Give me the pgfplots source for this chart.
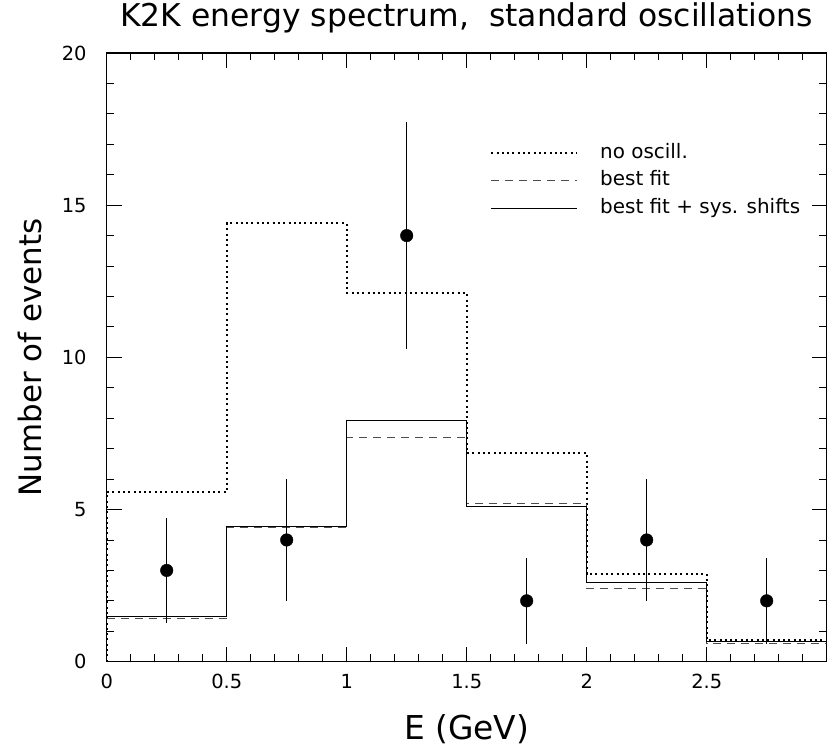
\documentclass[border=0pt]{standalone}
\usepackage{fontspec}
\setmainfont{DejaVu Sans}
\usepackage{pgfplots}
\pgfplotsset{compat=1.18}

\begin{document}
\begin{tikzpicture}
\useasboundingbox (0bp,0bp) rectangle (839bp,748bp);
\begin{axis}[at={(106.7bp,86.3bp)}, anchor=south west,
    scale only axis, width=720bp, height=608.7bp,
    xmin=0, xmax=3, ymin=0, ymax=20,
    xtick={0,0.5,1,1.5,2,2.5}, xticklabels={0,0.5,1,1.5,2,2.5},
    ytick={0,5,10,15,20}, yticklabels={0,5,10,15,20},
    minor xtick={0.1,0.2,0.3,0.4,0.6,0.7,0.8,0.9,1.1,1.2,1.3,1.4,1.6,1.7,1.8,1.9,2.1,2.2,2.3,2.4,2.6,2.7,2.8,2.9},
    minor ytick={1,2,3,4,6,7,8,9,11,12,13,14,16,17,18,19},
    tick align=inside, major tick length=15bp, minor tick length=7.5bp,
    every tick/.style={black, line width=0.9bp},
    axis line style={line width=1.5bp},
    ticklabel style={font=\fontsize{19.5}{19.5}\selectfont, inner sep=0pt},
    xticklabel style={anchor=base, yshift=-26.5bp},
    yticklabel style={anchor=east, xshift=-20bp},
    title={K2K energy spectrum,\ \ standard oscillations},
    title style={at={(axis description cs:0.5,1.0335)}, anchor=base, inner sep=0pt,
        font=\fontsize{31.5}{31.5}\selectfont},
    xlabel={E (GeV)},
    xlabel style={at={(axis description cs:0.5,-0.128)}, anchor=base, inner sep=0pt,
        font=\fontsize{33}{33}\selectfont},
    ylabel={Number of events},
    ylabel style={at={(axis description cs:-0.09,0.5)}, anchor=base, rotate=0, inner sep=0pt,
        font=\fontsize{31}{31}\selectfont},
    legend style={at={(axis description cs:0.5324,0.852)}, anchor=north west,
        draw=none, fill=none, inner sep=0pt, font=\fontsize{20}{20}\selectfont,
        nodes={inner sep=0pt, text height=15bp, text depth=5bp},
        row sep=7.5bp, column sep=22bp},
    legend cell align=left,
    legend image code/.code={\draw[#1] (0bp,0bp) -- (86bp,0bp);},
]
% no oscillation
\addplot[const plot, black, line width=2bp, dash pattern=on 2bp off 3.3bp]
    coordinates {(0,0) (0,5.56) (0.5,14.4) (1,12.12) (1.5,6.86) (2,2.89) (2.5,0.70) (3,0.70)};
\addlegendentry{no oscill.}
% best fit
\addplot[const plot, black!70, line width=0.9bp, dash pattern=on 8bp off 6bp]
    coordinates {(0,1.42) (0.5,4.41) (1,7.38) (1.5,5.20) (2,2.40) (2.5,0.60) (3,0.60)};
\addlegendentry{best fit}
% best fit + sys. shifts
\addplot[const plot, black, line width=0.9bp]
    coordinates {(0,1.50) (0.5,4.46) (1,7.94) (1.5,5.09) (2,2.62) (2.5,0.68) (3,0.68)};
\addlegendentry{best fit + sys. shifts}
% data
\addplot[only marks, mark=*, mark size=6.3bp, black,
    error bars/.cd, y dir=both, y explicit, error mark=none,
    error bar style={line width=0.9bp, black}]
    coordinates {
    (0.25,3) +- (0,1.73)
    (0.75,4) +- (0,2.0)
    (1.25,14) +- (0,3.74)
    (1.75,2) +- (0,1.41)
    (2.25,4) +- (0,2.0)
    (2.75,2) +- (0,1.41)
    };
\end{axis}
\end{tikzpicture}
\end{document}
